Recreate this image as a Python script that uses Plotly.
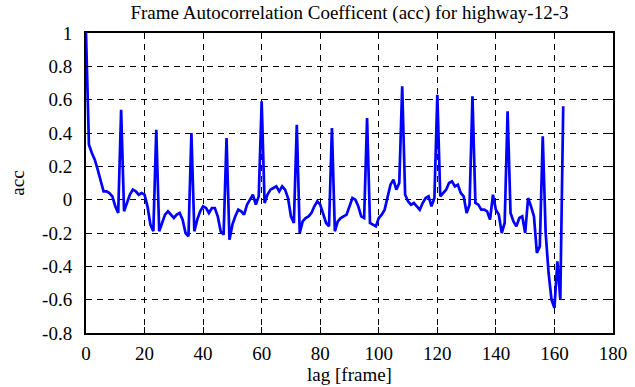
import plotly.graph_objects as go

lags = list(range(0, 164))
acc = [
    1.00, 0.33, 0.28, 0.24, 0.18, 0.12, 0.05, 0.05, 0.04, 0.02,
    -0.04, -0.08, 0.54, -0.07, -0.02, 0.03, 0.06, 0.05, 0.03, 0.04,
    0.03, -0.04, -0.15, -0.19, 0.42, -0.19, -0.14, -0.09, -0.07, -0.09,
    -0.11, -0.09, -0.08, -0.12, -0.20, -0.22, 0.40, -0.19, -0.12, -0.07,
    -0.04, -0.05, -0.08, -0.05, -0.05, -0.10, -0.19, -0.21, 0.37, -0.24,
    -0.15, -0.10, -0.06, -0.07, -0.09, -0.03, 0.00, 0.03, -0.03, 0.02,
    0.59, -0.02, 0.03, 0.06, 0.07, 0.08, 0.05, 0.08, 0.06, 0.01,
    -0.10, -0.14, 0.45, -0.20, -0.13, -0.11, -0.10, -0.08, -0.04, -0.01,
    -0.03, -0.09, -0.14, -0.16, 0.43, -0.19, -0.13, -0.11, -0.10, -0.09,
    -0.04, 0.01, 0.00, -0.04, -0.10, -0.11, 0.49, -0.14, -0.15, -0.16,
    -0.11, -0.09, -0.06, 0.02, 0.09, 0.12, 0.06, 0.10, 0.68, 0.03,
    -0.01, -0.03, -0.02, -0.04, -0.06, -0.02, 0.01, 0.02, -0.04, 0.01,
    0.63, 0.02, 0.04, 0.06, 0.10, 0.11, 0.08, 0.09, 0.04, 0.02,
    -0.08, -0.03, 0.62, -0.02, -0.03, -0.06, -0.06, -0.07, -0.12, 0.03,
    -0.06, -0.09, -0.20, -0.14, 0.53, -0.08, -0.13, -0.16, -0.11, -0.10,
    -0.20, 0.01, -0.04, -0.10, -0.32, -0.28, 0.38, -0.20, -0.44, -0.60,
    -0.65, -0.37, -0.60, 0.56,
]

x_ticks = [0, 20, 40, 60, 80, 100, 120, 140, 160, 180]
x_labels = ["0", "20", "40", "60", "80", "100", "120", "140", "160", "180"]
y_ticks = [-0.8, -0.6, -0.4, -0.2, 0, 0.2, 0.4, 0.6, 0.8, 1]
y_labels = ["-0.8", "-0.6", "-0.4", "-0.2", "0", "0.2", "0.4", "0.6", "0.8", "1"]

title_text = "Frame Autocorrelation Coefficent (acc) for highway-12-3"
FF = "Liberation Serif"
FS = 19

fig = go.Figure()
fig.add_trace(go.Scatter(x=lags, y=acc, mode="lines",
                         line=dict(color="#0000FF", width=2.7),
                         showlegend=False, hoverinfo="skip"))

axis_common = dict(
    showline=True, linecolor="black", linewidth=2,
    mirror="ticks", ticks="inside", ticklen=6, tickwidth=1, tickcolor="black",
    showgrid=True, gridcolor="black", gridwidth=1, griddash="6px,5px",
    zeroline=False, tickfont=dict(family=FF, size=FS, color="black"),
    automargin=False,
)

fig.update_xaxes(range=[0, 180], tickvals=x_ticks, ticktext=x_labels,
                 ticklabelstandoff=2,
                 title=dict(text="lag [frame]", font=dict(family=FF, size=FS, color="black"), standoff=4),
                 **axis_common)
fig.update_yaxes(range=[-0.8, 1], tickvals=y_ticks, ticktext=y_labels,
                 ticklabelstandoff=8,
                 title=dict(text="acc", font=dict(family=FF, size=FS, color="black"), standoff=12),
                 **axis_common)

fig.update_layout(
    width=635, height=387,
    margin=dict(l=86, r=22, t=33, b=54, autoexpand=False),
    paper_bgcolor="white", plot_bgcolor="white",
    font=dict(family=FF, size=FS, color="black"),
    hovermode=False,
    title=dict(text=title_text, x=0.5, xanchor="center", xref="paper",
               y=1 - 12 / 387, yanchor="middle", yref="container",
               font=dict(family=FF, size=FS, color="black")),
)

fig.write_html("out.html",
               config={"displayModeBar": False, "staticPlot": True},
               post_script="document.body.style.margin='0';document.body.style.padding='0';")
